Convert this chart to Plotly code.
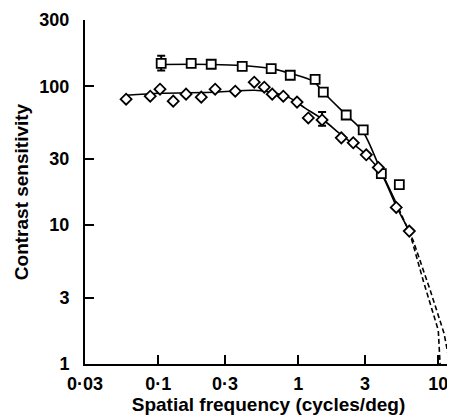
import plotly.graph_objects as go
import numpy as np

# Data (spatial frequency c/deg, contrast sensitivity)
sq_x = [0.105, 0.172, 0.239, 0.398, 0.641, 0.877, 1.32, 1.51, 2.2, 2.91, 3.92, 5.27]
sq_y = [146, 146, 144, 139, 134, 120, 112, 90.6, 62.1, 48.5, 23.5, 19.6]

di_x = [0.059, 0.0877, 0.103, 0.128, 0.158, 0.203, 0.255, 0.355, 0.485, 0.572,
        0.652, 0.782, 0.98, 1.18, 1.48, 2.03, 2.47, 3.06, 3.73, 5.01, 6.21]
di_y = [80.7, 84.8, 95.2, 78.1, 87.7, 83.5, 95.2, 92.1, 107, 98.4,
        87.7, 84.8, 76.9, 59.1, 57.2, 42.5, 39.2, 32.1, 26.0, 13.4, 9.06]

# Error bars (point x, upper, lower)
sq_err_x = [0.105]
sq_err_hi = [166]
sq_err_lo = [130]
di_err_x = [1.48]
di_err_hi = [65.2]
di_err_lo = [51.9]

# Fitted curves (solid part and dashed extrapolation)
sq_fit_x = [0.105, 0.239, 0.398, 0.641, 0.877, 1.28, 1.51, 2.2, 2.91, 3.92, 4.93]
sq_fit_y = [143.6, 143.6, 141, 134, 124, 108.6, 90.6, 62.1, 46.9, 24.3, 14.9]
sq_ext_x = [4.93, 6.63, 8.77, 11.0, 12.1]
sq_ext_y = [14.9, 7.7, 3.38, 1.66, 1.0]

di_fit_x = [0.059, 0.103, 0.255, 0.485, 0.652, 0.877, 1.12, 1.48, 2.03, 3.06, 3.92, 5.01, 6.21]
di_fit_y = [86.2, 89.1, 90.6, 93.6, 90.6, 82.1, 69.6, 58.1, 44.7, 32.1, 23.5, 13.7, 9.06]
di_ext_x = [6.21, 7.81, 10.0, 10.3]
di_ext_y = [9.06, 3.98, 1.75, 1.0]

x_ticks = [0.03, 0.1, 0.3, 1, 3, 10]
x_ticktext = ["0·03", "0·1", "0·3", "1", "3", "10"]
y_ticks = [1, 3, 10, 30, 100, 300]
y_ticktext = ["1", "3", "10", "30", "100", "300"]

FONT = "Liberation Sans, Arial, Helvetica, sans-serif"

fig = go.Figure()

line_w = 1.6
# curves
fig.add_trace(go.Scatter(x=sq_fit_x, y=sq_fit_y, mode="lines",
                         line=dict(color="black", width=line_w, shape="spline", smoothing=0.8),
                         hoverinfo="skip"))
fig.add_trace(go.Scatter(x=sq_ext_x, y=sq_ext_y, mode="lines",
                         line=dict(color="black", width=line_w, dash="5px,3px"),
                         hoverinfo="skip"))
fig.add_trace(go.Scatter(x=di_fit_x, y=di_fit_y, mode="lines",
                         line=dict(color="black", width=line_w, shape="spline", smoothing=0.8),
                         hoverinfo="skip"))
fig.add_trace(go.Scatter(x=di_ext_x, y=di_ext_y, mode="lines",
                         line=dict(color="black", width=line_w, dash="5px,3px"),
                         hoverinfo="skip"))

# error bars
for ex, hi, lo in [(sq_err_x, sq_err_hi, sq_err_lo), (di_err_x, di_err_hi, di_err_lo)]:
    mid = [np.sqrt(h * l) for h, l in zip(hi, lo)]
    fig.add_trace(go.Scatter(
        x=ex, y=mid, mode="markers", marker=dict(size=1, color="rgba(0,0,0,0)"),
        error_y=dict(type="data", symmetric=False,
                     array=[h - m for h, m in zip(hi, mid)],
                     arrayminus=[m - l for m, l in zip(mid, lo)],
                     color="black", thickness=2, width=4),
        hoverinfo="skip"))

# markers
fig.add_trace(go.Scatter(x=sq_x, y=sq_y, mode="markers",
                         marker=dict(symbol="square", size=9, color="white",
                                     line=dict(color="black", width=1.8))))
fig.add_trace(go.Scatter(x=di_x, y=di_y, mode="markers",
                         marker=dict(symbol="diamond", size=8.5, color="white",
                                     line=dict(color="black", width=1.8))))

# page body has an 8px margin: figure placed at (8, 8)
fig.update_layout(
    width=447, height=408,
    margin=dict(l=77, r=3, t=12, b=52, autoexpand=False),
    paper_bgcolor="white", plot_bgcolor="white",
    showlegend=False,
    font=dict(family=FONT, color="black", size=18),
)
fig.update_xaxes(
    type="log", range=[np.log10(0.03), 1.098], automargin=False,
    tickvals=x_ticks, ticktext=x_ticktext, ticklabeloverflow="allow",
    ticks="inside", ticklen=9, tickwidth=1.5, tickcolor="black",
    showline=True, linecolor="black", linewidth=2,
    showgrid=False, zeroline=False, ticklabelstandoff=2,
    tickfont=dict(family=FONT, size=18, weight="bold"),
    title=dict(text="Spatial frequency (cycles/deg)",
               font=dict(family=FONT, size=19, weight="bold"), standoff=0),
)
fig.update_yaxes(
    type="log", range=[0, np.log10(300)], automargin=False,
    tickvals=y_ticks, ticktext=y_ticktext, ticklabeloverflow="allow",
    ticks="inside", ticklen=9, tickwidth=1.5, tickcolor="black",
    showline=True, linecolor="black", linewidth=2,
    showgrid=False, zeroline=False, ticklabelstandoff=10,
    tickfont=dict(family=FONT, size=18, weight="bold"),
    title=dict(text="Contrast sensitivity",
               font=dict(family=FONT, size=19, weight="bold"), standoff=6),
)

fig.write_html("out.html")
